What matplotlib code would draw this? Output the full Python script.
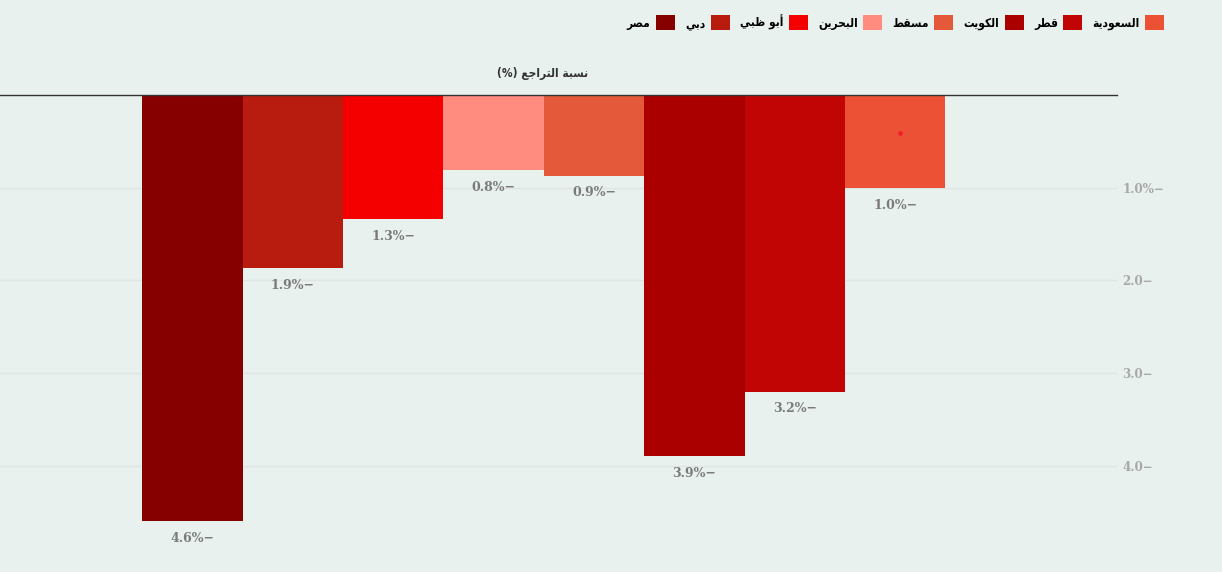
import matplotlib
matplotlib.use("Agg")
import matplotlib.pyplot as plt
from matplotlib.patches import Patch
from matplotlib import font_manager

# data
countries = ["مصر", "دبي", "أبو ظبي", "البحرين", "مسقط", "الكويت", "قطر", "السعودية"]
values = [-4.6, -1.87, -1.335, -0.806, -0.87, -3.9, -3.2, -1.0]
colors = ["#870000", "#B81C0E", "#F50000", "#FF8C7F", "#E3593A", "#AB0000", "#C10505", "#EC5135"]
yticks = [-1.0, -2.0, -3.0, -4.0]
ytick_labels = ["1.0%−", "2.0−", "3.0−", "4.0−"]
title = "نسبة التراجع (%)"
dot_country = "السعودية"
dot_value = -0.41

# minimal arabic shaping (matplotlib has no bidi / joining)
# forms: isolated, final, initial, medial
FORMS = {
    "ا": ("\uFE8D", "\uFE8E", None, None),
    "أ": ("\uFE83", "\uFE84", None, None),
    "ب": ("\uFE8F", "\uFE90", "\uFE91", "\uFE92"),
    "ة": ("\uFE93", "\uFE94", None, None),
    "ت": ("\uFE95", "\uFE96", "\uFE97", "\uFE98"),
    "ج": ("\uFE9D", "\uFE9E", "\uFE9F", "\uFEA0"),
    "ح": ("\uFEA1", "\uFEA2", "\uFEA3", "\uFEA4"),
    "د": ("\uFEA9", "\uFEAA", None, None),
    "ر": ("\uFEAD", "\uFEAE", None, None),
    "س": ("\uFEB1", "\uFEB2", "\uFEB3", "\uFEB4"),
    "ص": ("\uFEB9", "\uFEBA", "\uFEBB", "\uFEBC"),
    "ط": ("\uFEC1", "\uFEC2", "\uFEC3", "\uFEC4"),
    "ظ": ("\uFEC5", "\uFEC6", "\uFEC7", "\uFEC8"),
    "ع": ("\uFEC9", "\uFECA", "\uFECB", "\uFECC"),
    "ق": ("\uFED5", "\uFED6", "\uFED7", "\uFED8"),
    "ك": ("\uFED9", "\uFEDA", "\uFEDB", "\uFEDC"),
    "ل": ("\uFEDD", "\uFEDE", "\uFEDF", "\uFEE0"),
    "م": ("\uFEE1", "\uFEE2", "\uFEE3", "\uFEE4"),
    "ن": ("\uFEE5", "\uFEE6", "\uFEE7", "\uFEE8"),
    "و": ("\uFEED", "\uFEEE", None, None),
    "ي": ("\uFEF1", "\uFEF2", "\uFEF3", "\uFEF4"),
}
MIRROR = {"(": ")", ")": "("}


def ar(text):
    out = []
    for i, c in enumerate(text):
        if c not in FORMS:
            out.append(MIRROR.get(c, c))
            continue
        prev = text[i - 1] if i > 0 else ""
        nxt = text[i + 1] if i + 1 < len(text) else ""
        jp = prev in FORMS and FORMS[prev][2] is not None
        jn = FORMS[c][2] is not None and nxt in FORMS
        f = FORMS[c]
        if jp and jn:
            out.append(f[3])
        elif jp:
            out.append(f[1])
        elif jn:
            out.append(f[2])
        else:
            out.append(f[0])
    return "".join(out[::-1])


# condensed dejavu if it is there, else the normal one
leg_font = font_manager.FontProperties(family="DejaVu Sans", weight="bold", stretch="condensed", size=8.6)

bg = "#E8F1EE"
W, H = 1222, 572
fig = plt.figure(figsize=(W / 100, H / 100), dpi=100, facecolor=bg)
ax = fig.add_axes([0, 0, 1117 / W, (H - 95) / H], facecolor=bg)

x = list(range(len(countries)))
ax.bar(x, values, width=1.0, color=colors, zorder=2)
ax.scatter([countries.index(dot_country) + 0.05], [dot_value], s=6, color="#F0202A", zorder=3)

for xi, v in zip(x, values):
    ax.annotate(f"{abs(v):.1f}%−", (xi, v), xytext=(0, -12.5), textcoords="offset points",
                ha="center", va="center", fontsize=9, fontweight="bold",
                family="DejaVu Serif", color="#7a7a7a")

ax.set_xlim(-1.917, 9.21)
ax.set_ylim(-(H - 95) / 92.67, 0)
ax.set_xticks([])
ax.set_yticks(yticks)
ax.set_yticklabels(ytick_labels)
ax.yaxis.tick_right()
ax.tick_params(axis="y", length=0, pad=4, labelsize=8.6, labelcolor="#a8a8a8")
for lab in ax.get_yticklabels():
    lab.set_fontweight("bold")
    lab.set_family("DejaVu Serif")
ax.grid(axis="y", color="#e0e4e2", lw=1, zorder=0)
for s in ["left", "right", "bottom"]:
    ax.spines[s].set_visible(False)
ax.spines["top"].set_color("#333333")
ax.spines["top"].set_linewidth(1)

title_font = leg_font.copy()
title_font.set_size(8.6)
fig.text(543 / W, 1 - 74 / H, ar(title), ha="center", va="center",
         fontproperties=title_font, color="#333333")

handles = [Patch(facecolor=c, edgecolor="none", label=ar(n)) for n, c in zip(countries, colors)]
leg = fig.legend(handles=handles, loc="upper right", bbox_to_anchor=(1175 / W, 1 - 4 / H),
                 ncol=len(countries), markerfirst=False, frameon=False,
                 handlelength=1.6, handleheight=1.6, handletextpad=0.45, columnspacing=0.85,
                 prop=leg_font)

fig.savefig("out.png", dpi=100, facecolor=bg)
